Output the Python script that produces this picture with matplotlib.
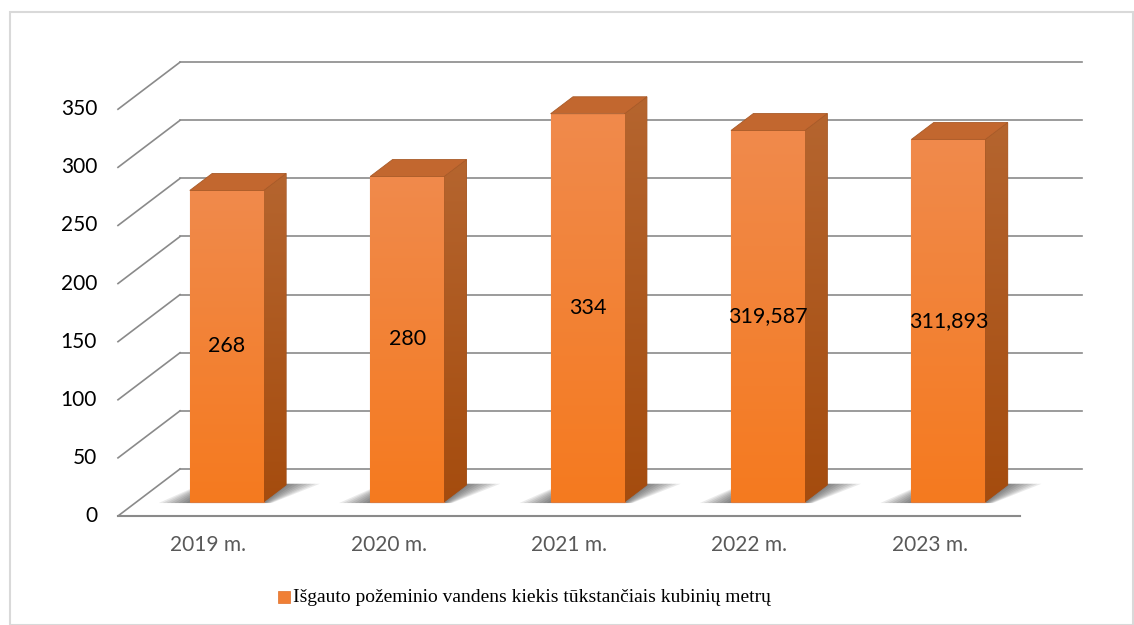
import matplotlib.pyplot as plt
import numpy as np
from matplotlib.patches import Polygon, Rectangle
from matplotlib.colors import LinearSegmentedColormap

# data
years = ["2019 m.", "2020 m.", "2021 m.", "2022 m.", "2023 m."]
values = [268, 280, 334, 319.587, 311.893]
value_labels = ["268", "280", "334", "319,587", "311,893"]
y_ticks = [0, 50, 100, 150, 200, 250, 300, 350]
legend_label = "Išgauto požeminio vandens kiekis tūkstančiais kubinių metrų"

# pseudo-3d geometry (category units / value units)
wall_dx, wall_dy = 0.344, 40.5     # depth of the floor
bar_f0, bar_f1 = 0.30, 0.66        # bar position within depth
bar_w = 0.41

fig = plt.figure(figsize=(11.34, 6.25), dpi=100)
ax = fig.add_axes([0, 0, 1, 1])
ax.axis("off")

# chart border
fig.patches.append(Rectangle((10 / 1134, 0.0), 1123 / 1134, 1 - 12 / 625,
                             transform=fig.transFigure, fill=False,
                             edgecolor="#d9d9d9", linewidth=1.5))

grid_col = "#8a8a8a"
x0, x1 = -0.5, len(years) - 0.5
for t in y_ticks:
    ax.plot([x0, x0 + wall_dx], [t, t + wall_dy], color=grid_col, lw=1.2, zorder=1)
    ax.plot([x0 + wall_dx, x1 + wall_dx], [t + wall_dy, t + wall_dy],
            color=grid_col, lw=1.2, zorder=1)
    ax.text(x0 - 0.116, t, str(t), ha="right", va="center", fontsize=15,
            family="Lato", color="black")
ax.plot([x0, x1], [0, 0], color=grid_col, lw=1.5, zorder=1)

# bars
fdx0, fdy0 = bar_f0 * wall_dx, bar_f0 * wall_dy
ddx, ddy = (bar_f1 - bar_f0) * wall_dx, (bar_f1 - bar_f0) * wall_dy
xs = np.arange(len(years))

grad = np.linspace(0, 1, 256).reshape(-1, 1)
front_cmap = LinearSegmentedColormap.from_list("front", ["#f57a1f", "#f08a4c"])
side_cmap = LinearSegmentedColormap.from_list("side", ["#a54c0e", "#b5652f"])

for i, v in enumerate(values):
    xl = xs[i] - bar_w / 2 + fdx0
    xr = xs[i] + bar_w / 2 + fdx0
    yb, yt = fdy0, fdy0 + v

    # soft shadow on the floor, footprint stretched sideways
    for k in range(8):
        e = 0.018 * (8 - k)
        sh = Polygon([(xl - 1.2 * e, yb - 1), (xr + 0.3 * e, yb - 1),
                      (xr + ddx + 1.3 * e, yb + ddy + 1), (xl + ddx - 0.4 * e, yb + ddy + 1)],
                     closed=True, facecolor="#202020", edgecolor="none",
                     alpha=0.09, zorder=2)
        ax.add_patch(sh)

    bar = ax.bar(xs[i] + fdx0, v, bottom=yb, width=bar_w, color="#f28240",
                 edgecolor="#e07a3a", linewidth=0.8, zorder=4)[0]
    im = ax.imshow(grad, cmap=front_cmap, aspect="auto", origin="lower",
                   extent=(xl, xr, yb, yt), zorder=4.5)
    im.set_clip_path(bar)

    side = Polygon([(xr, yb), (xr + ddx, yb + ddy), (xr + ddx, yt + ddy), (xr, yt)],
                   closed=True, facecolor="#ad5a22", edgecolor="#9c5020",
                   linewidth=0.6, zorder=4)
    ax.add_patch(side)
    im2 = ax.imshow(grad, cmap=side_cmap, aspect="auto", origin="lower",
                    extent=(xr, xr + ddx, yb, yt + ddy), zorder=4.5)
    im2.set_clip_path(side)

    top = Polygon([(xl, yt), (xl + ddx, yt + ddy), (xr + ddx, yt + ddy), (xr, yt)],
                  closed=True, facecolor="#c2672f", edgecolor="#a85a28",
                  linewidth=0.6, zorder=5)
    ax.add_patch(top)

    ax.text(xs[i] + fdx0, yb + v / 2, value_labels[i], ha="center", va="center",
            fontsize=15.5, family="Lato", color="black", zorder=6)
    ax.text(xs[i], -25, years[i], ha="center", va="center", fontsize=15,
            family="Lato", color="#595959")

ax.set_xlim(-1.154, 5.132)
ax.set_ylim(-93.8, 444)

# legend
fig.patches.append(Rectangle((278 / 1134, 1 - 603 / 625), 12 / 1134, 12 / 625,
                             transform=fig.transFigure, facecolor="#f07f35",
                             edgecolor="#e0702a", linewidth=0.5))
fig.text(293 / 1134, 1 - 597 / 625, legend_label, ha="left", va="center",
         fontsize=14, family="Liberation Serif", color="black")

fig.savefig("out.png", dpi=100)
